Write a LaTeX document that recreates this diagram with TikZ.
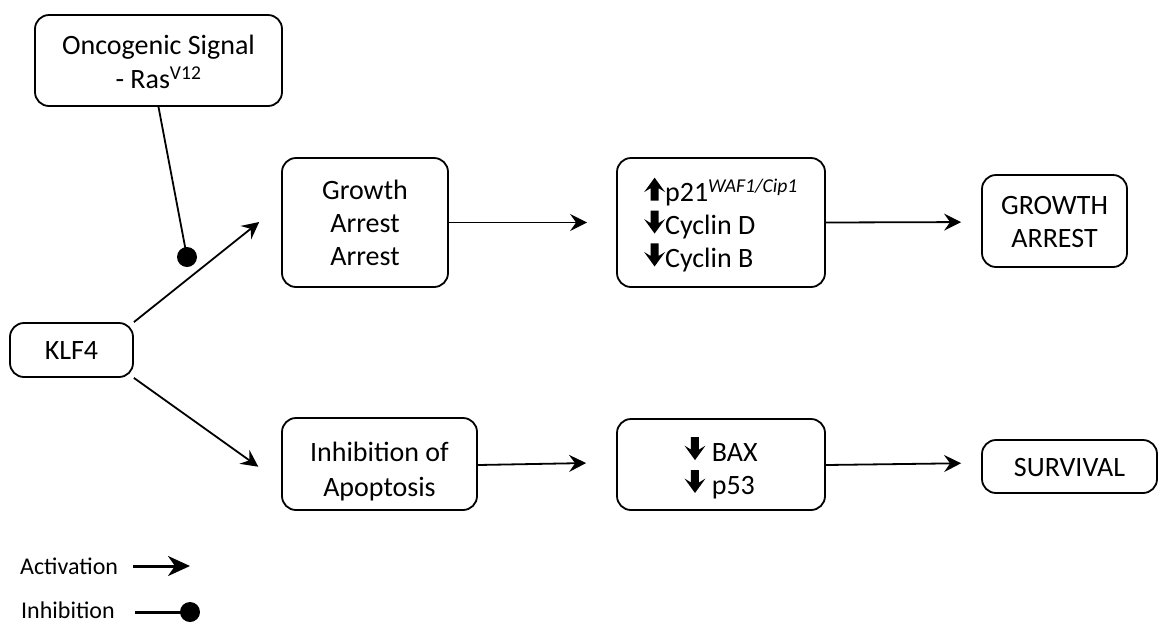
\documentclass[tikz,border=0pt]{standalone}
\usepackage{fontspec}
\setmainfont{Carlito}
\usetikzlibrary{arrows.meta,calc}

% bold block arrows used inside the marker boxes
\newcommand{\blkdown}{\tikz[baseline=-1pt,x=1pt,y=1pt,sharp corners]\fill[draw=none] (-4,23) -- (4,23) -- (4,10.5) -- (10.5,14.5) -- (0,0) -- (-10.5,14.5) -- (-4,10.5) -- cycle;}
\newcommand{\blkup}{\tikz[baseline=-1pt,x=1pt,y=1pt,sharp corners]\fill[draw=none] (-4,0) -- (4,0) -- (4,12.5) -- (10.5,8.5) -- (0,23) -- (-10.5,8.5) -- (-4,12.5) -- cycle;}
% box text set lower by #1 while the node keeps its centring
\newcommand{\boxtext}[3][c]{\raisebox{-#2}[\height][\depth]{\begin{tabular}{@{}#1@{}}#3\end{tabular}}}

\begin{document}
\begin{tikzpicture}[x=1pt,y=-1pt,
  box/.style={draw, line width=1.8pt, rounded corners=14pt, inner sep=0pt,
    font=\fontsize{28}{33}\selectfont},
  act/.style={line width=1.8pt, -{Stealth[length=17pt,width=17pt,inset=6pt]}},
  inhib/.style={line width=1.8pt},
  legtext/.style={anchor=west, inner sep=0pt, font=\fontsize{24}{28}\selectfont}]
\useasboundingbox (0,0) rectangle (1159,622);

% nodes
\node[box, minimum width=247pt, minimum height=91pt] (onc) at (158.5,60.5)
  {\boxtext{4pt}{Oncogenic Signal\\[1pt]- Ras\textsuperscript{V12}}};
\node[box, minimum width=166pt, minimum height=129pt] (ga) at (365,222.5)
  {\boxtext{3.5pt}{Growth\\Arrest\\Arrest}};
\node[box, minimum width=123pt, minimum height=54pt] (klf) at (71.5,350)
  {\boxtext{3pt}{KLF4}};
\node[box, minimum width=195pt, minimum height=92pt] (inh) at (379.5,464)
  {\boxtext{8pt}{Inhibition of\\[2pt]Apoptosis}};
\node[box, minimum width=208pt, minimum height=129pt] (p21) at (721,222.5)
  {\boxtext[l]{5pt}{\blkup p21\textsuperscript{\itshape WAF1/Cip1}\\[-1pt]\blkdown Cyclin D\\[-1pt]\blkdown Cyclin B}};
\node[box, minimum width=145pt, minimum height=92pt] (gar) at (1054.5,221)
  {\boxtext{3pt}{GROWTH\\ARREST}};
\node[box, minimum width=208pt, minimum height=91pt] (bax) at (721,464.5)
  {\boxtext[l]{6pt}{\blkdown\ BAX\\[-1pt]\blkdown\ p53}};
\node[box, minimum width=175pt, minimum height=53pt] (surv) at (1069.5,466.5)
  {\boxtext{3.5pt}{SURVIVAL}};

% activation connectors
\draw[act, shorten >=28pt] (klf.north east) -- ($(ga.west)+(0,-18)$);
\draw[act, shorten >=28pt] (klf.south east) -- ($(inh.west)+(0,19)$);
\draw[act, shorten >=29pt] (ga.east) -- (p21.west);
\draw[act, shorten >=20pt] (p21.east) -- ($(gar.west)+(0,1)$);
\draw[act, shorten >=30pt] ($(inh.east)+(0,1)$) -- ($(bax.west)+(0,-2)$);
\draw[act, shorten >=20pt] ($(bax.east)+(0,0.5)$) -- ($(surv.west)+(0,-3.5)$);

% inhibition by the oncogenic signal
\coordinate (rasdot) at (187,257);
\draw[inhib] (onc.south) -- (rasdot);
\fill (rasdot) circle (10pt);

% legend
\node[legtext] (lact) at (20,566) {Activation};
\node[legtext] (linh) at (21,610) {Inhibition};
\coordinate (lactend) at (190,566);
\coordinate (linhend) at (190,612);
\draw[line width=3pt, -{Stealth[length=22pt,width=20pt,inset=7pt]}] ($(lact.east)+(15,0)$) -- (lactend);
\draw[line width=3pt] ($(linh.east)+(20,2)$) -- (linhend);
\fill (linhend) circle (10pt);
\end{tikzpicture}
\end{document}
